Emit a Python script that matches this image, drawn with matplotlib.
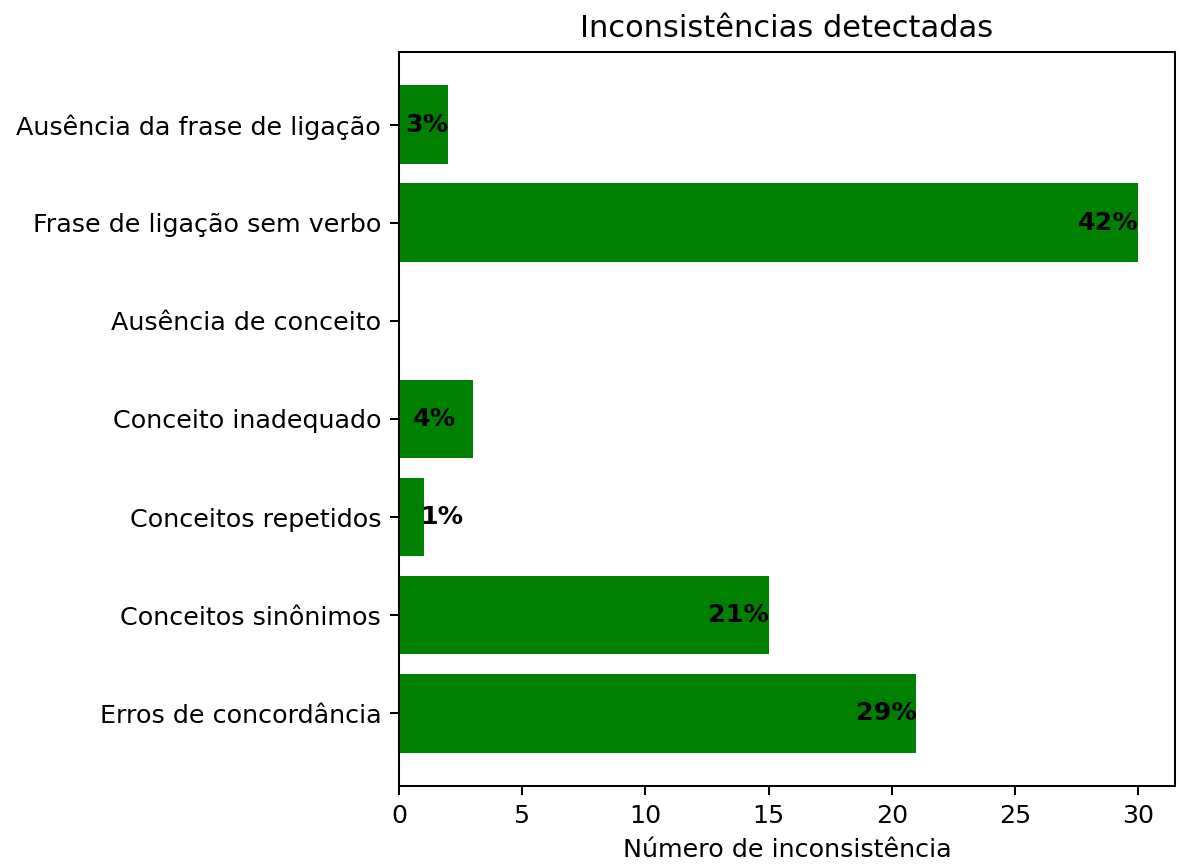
import matplotlib
matplotlib.use('Agg')
import matplotlib.pyplot as plt

categorias = ['Erros de concordância', 'Conceitos sinônimos', 'Conceitos repetidos',
              'Conceito inadequado', 'Ausência de conceito',
              'Frase de ligação sem verbo', 'Ausência da frase de ligação']
quantidades = [21, 15, 1, 3, 0, 30, 2]
rotulos = ['29%', '21%', '1%', '4%', '', '42%', '3%']

DPI = 183
fig, ax = plt.subplots(figsize=(1178 / DPI, 866 / DPI), dpi=DPI)
fig.subplots_adjust(left=0.3387, right=0.9975, top=0.940, bottom=0.0924)

pos = range(len(categorias))
ax.barh(pos, quantidades, color='green', height=0.8)
ax.set_yticks(list(pos))
ax.set_yticklabels(categorias)

for i, (v, r) in enumerate(zip(quantidades, rotulos)):
    if not r:
        continue
    x, ha = v, 'right'
    if r == '1%':
        x, ha = v - 0.15, 'left'
    elif r == '4%':
        x = v - 0.7
    ax.text(x, i, r, ha=ha, va='center', fontweight='bold', fontsize=10)

ax.set_title('Inconsistências detectadas')
ax.set_xlabel('Número de inconsistência')

fig.savefig('out.png', dpi=DPI)
